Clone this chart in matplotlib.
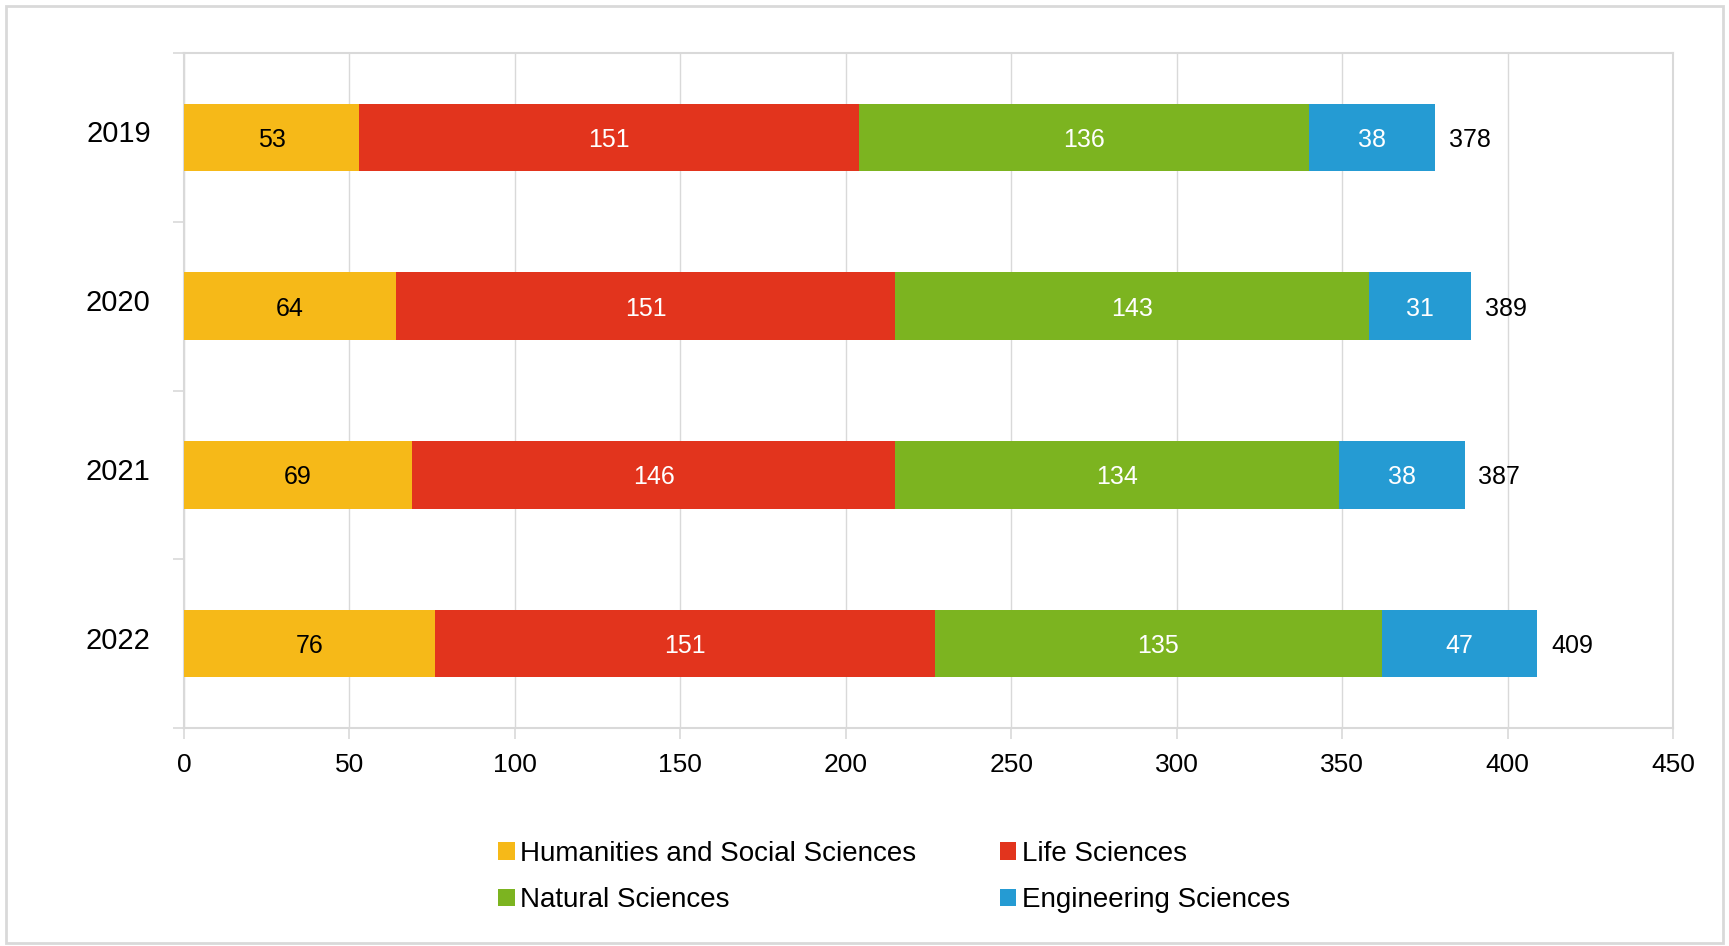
import numpy as np
import matplotlib.pyplot as plt
import matplotlib.transforms as mtransforms

plt.rcParams['font.family'] = ['Liberation Sans', 'DejaVu Sans']

# data
years = ['2019', '2020', '2021', '2022']
humanities = [53, 64, 69, 76]
life = [151, 151, 146, 151]
natural = [136, 143, 134, 135]
engineering = [38, 31, 38, 47]
totals = [378, 389, 387, 409]

series = [
    ('Humanities and Social Sciences', humanities, '#F6B918', 'black'),
    ('Life Sciences', life, '#E2341D', 'white'),
    ('Natural Sciences', natural, '#7CB420', 'white'),
    ('Engineering Sciences', engineering, '#259BD3', 'white'),
]

grid_col = '#d9d9d9'

fig = plt.figure(figsize=(17.29, 9.46), dpi=100)
ax = fig.add_axes([0.1064, 0.2304, 0.8612, 0.7136])

y = np.arange(len(years))
left = np.zeros(len(years))
handles = {}
for name, vals, col, tcol in series:
    bars = ax.barh(y, vals, left=left, height=0.4, color=col, label=name, zorder=3)
    # value in the middle of each segment
    for yi, l, v in zip(y, left, vals):
        ax.text(l + v / 2, yi, str(v), ha='center', va='center_baseline',
                color=tcol, fontsize=18, zorder=4)
    handles[name] = bars
    left = left + np.array(vals)

# totals at the end of each bar
for yi, t in zip(y, totals):
    ax.annotate(str(t), xy=(t, yi), xytext=(10, 0), textcoords='offset points',
                va='center_baseline', ha='left', fontsize=18)

ax.set_xlim(0, 450)
ax.set_ylim(3.5, -0.5)
ax.set_xticks(np.arange(0, 451, 50))
ax.set_yticks(y)
ax.set_yticklabels(years)
ax.set_yticks(np.arange(-0.5, 3.6, 1), minor=True)

ax.tick_params(axis='x', length=8, width=1.2, color=grid_col, labelsize=19, pad=10)
ax.tick_params(axis='y', which='major', length=0, labelsize=21, pad=24)
ax.tick_params(axis='y', which='minor', length=8, width=1.2, color=grid_col)

# year labels sit a little above the bar centre
shift = mtransforms.ScaledTranslation(0, 6 / 100, fig.dpi_scale_trans)
for lab in ax.get_yticklabels():
    lab.set_transform(lab.get_transform() + shift)

ax.grid(axis='x', color=grid_col, linewidth=1, zorder=0)
ax.set_axisbelow(True)
for sp in ax.spines.values():
    sp.set_color(grid_col)
    sp.set_linewidth(1.5)

order = ['Humanities and Social Sciences', 'Natural Sciences',
         'Life Sciences', 'Engineering Sciences']
fig.legend([handles[n] for n in order], order, loc='center',
           bbox_to_anchor=(0.517, 0.073), ncol=2, frameon=False, fontsize=20,
           handlelength=0.6, handleheight=0.6, handletextpad=0.2,
           columnspacing=3.0, labelspacing=0.75)

# outer frame
fig.patches.append(plt.Rectangle((0.0035, 0.0035), 0.993, 0.99, transform=fig.transFigure,
                                 fill=False, edgecolor=grid_col, linewidth=2))

fig.savefig('out.png', dpi=100)
